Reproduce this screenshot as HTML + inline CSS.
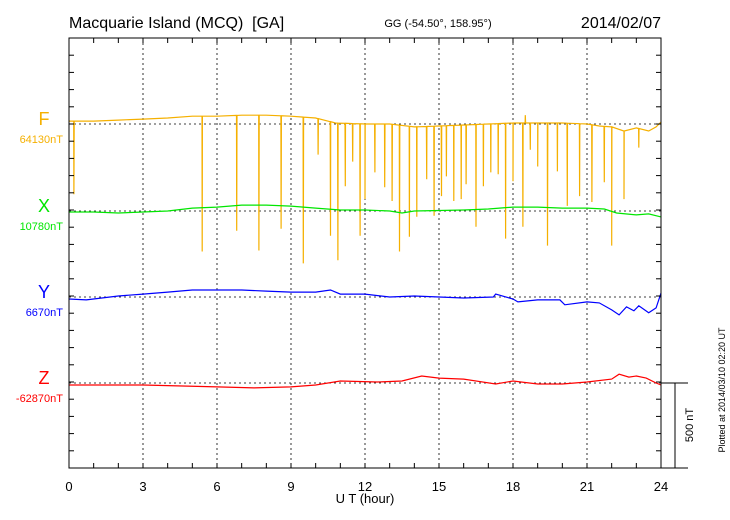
<!DOCTYPE html>
<html><head><meta charset="utf-8"><style>
body{margin:0;background:#fff}
svg{display:block;font-family:"Liberation Sans",sans-serif}
</style></head><body>
<svg id="chart" width="730" height="520" viewBox="0 0 730 520">
<text x="69" y="28" font-size="16">Macquarie Island (MCQ)&#160;&#160;[GA]</text>
<text x="438" y="27" font-size="11" text-anchor="middle">GG (-54.50°, 158.95°)</text>
<text x="661" y="28" font-size="16" text-anchor="end">2014/02/07</text>
<g id="grid"></g><g id="series"></g><g id="axes"></g>
</svg>
<script>
const hours=[0,3,6,9,12,15,18,21,24];
const names=['F','X','Y','Z'];
const baseVals=['64130nT','10780nT','6670nT','-62870nT'];
const colors=['#f5b000','#00e600','#0000ff','#ff0000'];
const fT=[0,1,2,3,4,5,6,7,8,9,10,10.8,12,13,14,15,16,17,18,19,20,21,21.5,22,22.5,23,23.5,23.8,24];
const fV=[17,17,23,29,35,46,46,52,52,46,35,6,0,0,-17,-12,-6,0,6,6,6,0,-12,-17,-41,-23,-41,-17,12];
const spikeT=[0.2,5.4,6.8,7.7,8.6,9.5,10.1,10.6,10.9,11.2,11.5,11.8,12.0,12.4,12.8,13.1,13.4,13.8,14.1,14.5,14.8,15.1,15.3,15.6,15.9,16.1,16.5,16.8,17.1,17.4,17.7,18.0,18.4,18.5,18.7,19.0,19.4,19.8,20.2,20.7,21.2,21.7,22.0,22.5,23.1];
const spikeV=[-413,-750,-628,-744,-616,-820,-180,-657,-802,-366,-221,-657,-442,-285,-372,-453,-750,-663,-546,-325,-540,-424,-308,-453,-442,-354,-604,-366,-285,-296,-674,-337,-604,52,-151,-250,-715,-279,-482,-424,-459,-343,-715,-442,-139];
const xT=[0,1,2,3,4,5,6,7,8,9,10,11,12,13,13.5,14,16,17,18,19,20,21,21.7,22.2,23,23.5,24];
const xV=[-6,-6,-12,-6,0,17,23,35,35,29,17,6,6,0,-12,0,6,12,23,23,17,17,12,-12,-23,-17,-35];
const yT=[0,0.7,2,3,4,5,6,7,8,9,10,10.6,11,12,13,14,15,16,17.2,17.3,18,18.2,19,19.9,20.1,21,21.5,22,22.3,22.6,22.9,23.1,23.5,23.8,24];
const yV=[-12,-17,6,17,29,41,41,41,35,29,29,41,17,17,0,6,0,-6,0,17,-12,-29,-17,-17,-46,-29,-35,-76,-105,-58,-81,-52,-93,-64,23];
const zT=[0,3,6,7.5,9,10,11,12.5,13.5,14.3,15,16,17.3,18,19,20,21,22,22.3,22.7,23,23.4,23.8,24];
const zV=[-12,-12,-23,-29,-23,-12,12,6,12,41,29,23,-6,12,-6,-6,6,23,52,35,41,29,0,-12];

const L=69,R=661,T=38,B=468,baseY=[124,211,297,383],pxPerNT=85/500;
const sx=h=>L+(R-L)*h/24;
const sy=(i,v)=>baseY[i]-v*pxPerNT;
const NS='http://www.w3.org/2000/svg';
function mk(tag,attrs,parent){const e=document.createElementNS(NS,tag);for(const k in attrs)e.setAttribute(k,attrs[k]);parent.appendChild(e);return e;}
const grid=document.getElementById('grid'),ser=document.getElementById('series'),ax=document.getElementById('axes');
hours.slice(1,-1).forEach(h=>{const g=mk('line',{x1:sx(h),x2:sx(h),y1:T,y2:B,stroke:'#000','stroke-width':0.8,'stroke-dasharray':'2,3'},grid);

});
baseY.forEach(y=>{const g=mk('line',{x1:L,x2:R,y1:y,y2:y,stroke:'#000','stroke-width':0.8,'stroke-dasharray':'2,3'},grid);

});
function interp(ts,vs,t){for(let k=0;k<ts.length-1;k++){if(t>=ts[k]&&t<=ts[k+1]){return vs[k]+(vs[k+1]-vs[k])*(t-ts[k])/(ts[k+1]-ts[k]);}}return vs[vs.length-1];}
let pts=[];fT.forEach((t,k)=>pts.push([t,fV[k]]));
spikeT.forEach((t,k)=>{const b=interp(fT,fV,t);pts.push([t-0.01,b]);pts.push([t,spikeV[k]]);pts.push([t+0.01,b]);});
pts.sort((a,b)=>a[0]-b[0]);
const series=[pts,xT.map((t,k)=>[t,xV[k]]),yT.map((t,k)=>[t,yV[k]]),zT.map((t,k)=>[t,zV[k]])];
const sNames=['f-series-line','x-series-line','y-series-line','z-series-line'];
series.forEach((p,i)=>{const d=p.map((q,k)=>(k?'L':'M')+sx(q[0]).toFixed(1)+','+sy(i,q[1]).toFixed(1)).join('');
const e=mk('path',{d:d,fill:'none',stroke:colors[i],'stroke-width':1.2},ser);

});
const fr=mk('rect',{x:L,y:T,width:R-L,height:B-T,fill:'none',stroke:'#000','stroke-width':1},ax);


for(let h=1;h<24;h++){mk('line',{x1:sx(h),x2:sx(h),y1:T,y2:T+5,stroke:'#000'},ax);mk('line',{x1:sx(h),x2:sx(h),y1:B,y2:B-5,stroke:'#000'},ax);}
for(let k=1;k<25;k++){const y=B-k*17.2;mk('line',{x1:L,x2:L+5,y1:y,y2:y,stroke:'#000'},ax);mk('line',{x1:R,x2:R-5,y1:y,y2:y,stroke:'#000'},ax);}
hours.forEach(h=>{const t=mk('text',{x:sx(h),y:491,'font-size':13,'text-anchor':'middle'},ax);t.textContent=h;

});
const xt=mk('text',{x:365,y:503,'font-size':13,'text-anchor':'middle'},ax);xt.textContent='U T (hour)';


names.forEach((n,i)=>{const a=mk('text',{x:44,y:baseY[i]+1,'font-size':18,'text-anchor':'middle',fill:colors[i]},ax);a.textContent=n;


const b=mk('text',{x:63,y:baseY[i]+19,'font-size':11,'text-anchor':'end',fill:colors[i]},ax);b.textContent=baseVals[i];

});
mk('line',{x1:R,x2:688,y1:383,y2:383,stroke:'#000'},ax);
mk('line',{x1:R,x2:688,y1:B,y2:B,stroke:'#000'},ax);
const sb=mk('line',{x1:675,x2:675,y1:383,y2:B,stroke:'#000'},ax);


const st=mk('text',{x:0,y:0,'font-size':11,'text-anchor':'middle',transform:'translate(693,425) rotate(-90)'},ax);st.textContent='500 nT';


const pt=mk('text',{x:0,y:0,'font-size':9,'text-anchor':'middle',transform:'translate(725,390) rotate(-90)'},ax);pt.textContent='Plotted at 2014/03/10 02:20 UT';


</script>
</body></html>
